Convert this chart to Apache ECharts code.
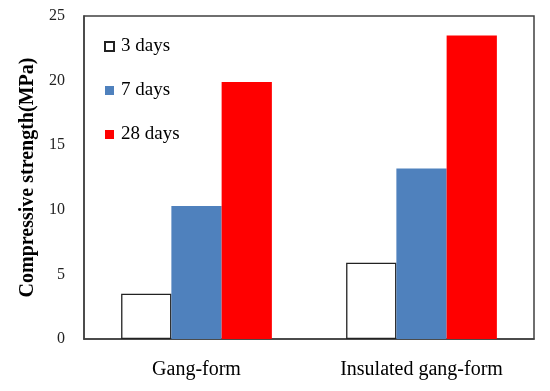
<!DOCTYPE html>
<html><head><meta charset="utf-8">
<script src="https://cdn.jsdelivr.net/npm/echarts@6/dist/echarts.min.js"></script>
<style>html,body{margin:0;padding:0;background:#fff}#c{width:550px;height:391px}</style>
</head><body><div id="c"></div>
<script>
const categories = ["Gang-form", "Insulated gang-form"];
const days3 = [3.5, 5.9];
const days7 = [10.3, 13.2];
const days28 = [19.9, 23.5];
const seriesNames = ["3 days", "7 days", "28 days"];

const chart = echarts.init(document.getElementById('c'));
const font = "'Liberation Serif', 'Times New Roman', serif";
chart.setOption({
  animation: false,
  grid: { left: 84, right: 16, top: 16, bottom: 52, show: true, borderColor: '#404040', borderWidth: 1.5, backgroundColor: 'transparent' },
  legend: {
    orient: 'vertical', left: 99, top: 32, itemWidth: 9, itemHeight: 9, itemGap: 25,
    icon: 'rect',
    textStyle: { fontFamily: font, fontSize: 19, color: '#000', padding: [0,0,0,2] },
    data: seriesNames
  },
  xAxis: {
    type: 'category', data: categories,
    axisLine: { lineStyle: { color: '#404040', width: 1.5 } },
    axisTick: { show: false },
    axisLabel: { fontFamily: font, fontSize: 20, color: '#000', margin: 21 }
  },
  yAxis: {
    type: 'value', min: 0, max: 25, interval: 5,
    name: 'Compressive strength(MPa)', nameLocation: 'middle', nameGap: 46,
    nameTextStyle: { fontFamily: font, fontSize: 20, fontWeight: 'bold', color: '#000' },
    axisLine: { show: true, lineStyle: { color: '#404040', width: 1.5 } },
    axisTick: { show: false },
    splitLine: { show: false },
    axisLabel: { fontFamily: font, fontSize: 16, color: '#222', margin: 19 }
  },
  series: [
    { name: seriesNames[0], type: 'bar', data: days3, barGap: '0%', barCategoryGap: '33%',
      itemStyle: { color: '#fff', borderColor: '#222', borderWidth: 1.3 } },
    { name: seriesNames[1], type: 'bar', data: days7, itemStyle: { color: '#4F81BD' } },
    { name: seriesNames[2], type: 'bar', data: days28, itemStyle: { color: '#FF0000' } }
  ]
});
</script></body></html>
